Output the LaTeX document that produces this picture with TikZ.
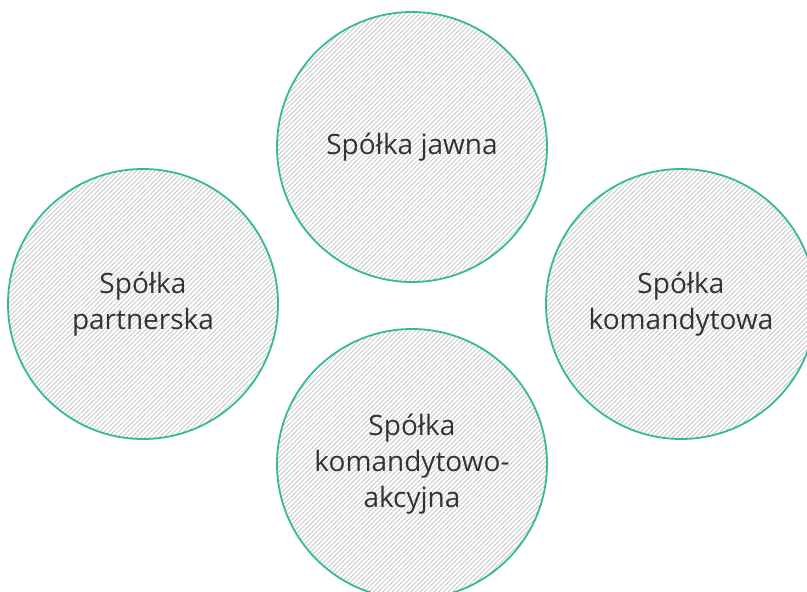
\documentclass[tikz,border=0pt]{standalone}
\usepackage{fontspec}
\setmainfont{Open Sans}
\usepackage{xcolor}
\usepackage{tikz}
\usetikzlibrary{patterns.meta}
\definecolor{ringteal}{HTML}{36B89C}
\definecolor{hatchgray}{HTML}{BDBDBD}
\definecolor{labelgray}{HTML}{333333}
\tikzset{
	formcircle/.style={circle,draw=ringteal,line width=1.8pt,minimum size=270pt,inner sep=0pt,
		align=center,text=labelgray,font=\fontsize{28}{36}\selectfont,
		pattern={Lines[angle=45,distance=3.3pt,line width=0.7pt]},pattern color=hatchgray}
}

\begin{document}
\begin{tikzpicture}[x=1pt,y=-1pt]
					\useasboundingbox (0,0) rectangle (807,592);
					\clip (0,0) rectangle (807,592);
					\node[formcircle] (jawna) at (412,147) {Spółka jawna};
					\node[formcircle] (partnerska) at (143,304) {Spółka\\partnerska};
					\node[formcircle] (komandytowa) at (681,304) {Spółka\\komandytowa};
					\node[formcircle] (akcyjna) at (412,464) {Spółka\\komandytowo-\\akcyjna};
				\end{tikzpicture}
\end{document}
